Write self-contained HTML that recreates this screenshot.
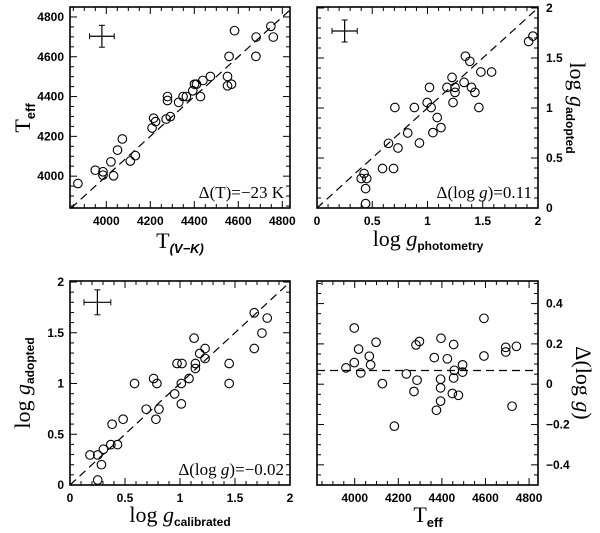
<!DOCTYPE html>
<html><head><meta charset="utf-8"><style>
html,body{margin:0;padding:0;background:#fff;}
svg{display:block;}
.tk{font-family:"Liberation Sans",sans-serif;font-size:12px;font-weight:bold;fill:#000;}
.lab{font-family:"Liberation Serif",serif;fill:#000;}
</style></head><body>
<svg id="fig" width="600" height="533" viewBox="0 0 600 533" xmlns="http://www.w3.org/2000/svg">
<g id="root"></g>
<text class="lab" transform="translate(30,118) rotate(-90)" text-anchor="middle" font-size="22">T<tspan font-size="13" font-weight="bold" font-family="Liberation Sans" dy="5">eff</tspan></text>
<text class="lab" x="180" y="248" text-anchor="middle" font-size="22">T<tspan font-size="13" font-weight="bold" font-style="italic" font-family="Liberation Sans" dy="5">(V−K)</tspan></text>
<text class="lab" x="428" y="246" text-anchor="middle" font-size="22">log <tspan font-style="italic">g</tspan><tspan font-size="12" font-weight="bold" font-family="Liberation Sans" dy="4">photometry</tspan></text>
<text class="lab" transform="translate(570,108) rotate(90)" text-anchor="middle" font-size="22">log <tspan font-style="italic">g</tspan><tspan font-size="12" font-weight="bold" font-family="Liberation Sans" dy="4">adopted</tspan></text>
<text class="lab" transform="translate(30,383) rotate(-90)" text-anchor="middle" font-size="22">log <tspan font-style="italic">g</tspan><tspan font-size="12" font-weight="bold" font-family="Liberation Sans" dy="4">adopted</tspan></text>
<text class="lab" x="180" y="522" text-anchor="middle" font-size="22">log <tspan font-style="italic">g</tspan><tspan font-size="12" font-weight="bold" font-family="Liberation Sans" dy="4">calibrated</tspan></text>
<text class="lab" x="428" y="522" text-anchor="middle" font-size="22">T<tspan font-size="13" font-weight="bold" font-family="Liberation Sans" dy="5">eff</tspan></text>
<text class="lab" transform="translate(576,383) rotate(90)" text-anchor="middle" font-size="22">Δ(log <tspan font-style="italic">g</tspan>)</text>
</svg>
<script>
const tlX=[3871,3950,3985,3985,4033,4021,4051,4073,4109,4132,4208,4215,4224,4272,4291,4278,4278,4329,4349,4364,4393,4401,4410,4428,4439,4473,4551,4551,4569,4558,4583,4680,4681,4748,4759];
const tlY=[3963,4030,4022,4005,4002,4072,4131,4187,4076,4103,4242,4291,4274,4287,4299,4400,4380,4371,4400,4400,4429,4462,4462,4400,4481,4501,4501,4454,4462,4602,4731,4602,4699,4753,4699];
const trX=[0.426,0.40,0.45,0.44,0.44,0.593,0.693,0.647,0.733,0.705,0.881,0.821,0.927,0.997,1.018,1.033,1.049,1.088,1.122,1.176,1.222,1.231,1.249,1.249,1.331,1.343,1.383,1.398,1.429,1.465,1.483,1.58,1.915,1.954];
const trY=[0.345,0.295,0.295,0.194,0.044,0.395,0.395,0.647,0.60,1.005,1.005,0.75,0.65,1.055,1.206,1.005,0.754,0.905,0.804,1.206,1.306,1.055,1.206,1.156,1.256,1.518,1.467,1.206,1.156,1.005,1.36,1.36,1.665,1.719];
const blX=[0.182,0.252,0.252,0.286,0.304,0.383,0.371,0.432,0.483,0.587,0.693,0.76,0.79,0.781,0.809,0.951,0.973,1.018,1.012,1.012,1.082,1.128,1.14,1.14,1.179,1.228,1.228,1.447,1.447,1.675,1.675,1.745,1.793];
const blY=[0.296,0.296,0.049,0.20,0.352,0.599,0.398,0.398,0.648,1.0,0.747,1.049,1.0,0.648,0.747,0.898,1.197,1.197,1.0,0.799,1.049,1.447,1.197,1.148,1.296,1.345,1.247,1.197,1.0,1.697,1.345,1.497,1.645];
const brX=[3960,3998,3998,4018,4028,4067,4073,4098,4127,4182,4237,4272,4281,4286,4297,4365,4375,4394,4394,4394,4396,4425,4454,4448,4457,4454,4476,4495,4495,4593,4593,4693,4693,4742,4722];
const brY=[0.081,0.279,0.107,0.174,0.056,0.139,0.096,0.208,0.003,-0.208,0.051,-0.036,0.195,0.02,0.212,0.132,-0.129,0.025,-0.018,-0.084,0.228,0.126,0.197,-0.046,0.069,0.031,-0.055,0.096,0.06,0.327,0.14,0.183,0.16,0.188,-0.109];
const tlTicks=[4000,4200,4400,4600,4800];
const logTicks=[0,0.5,1,1.5,2];
const logLabels=["0","0.5","1","1.5","2"];
const dTicks=[-0.4,-0.2,0,0.2,0.4];
const dLabels=["−0.4","−0.2","0","0.2","0.4"];
const brOffset=[0.068];
const NS="http://www.w3.org/2000/svg";
const root=document.getElementById('root');
function mk(tag,attrs,parent){const e=document.createElementNS(NS,tag);for(const k in attrs)e.setAttribute(k,attrs[k]);(parent||root).appendChild(e);return e;}
function panel(o){
  const g=mk('g',{});
  
  
  const sx=v=>o.x0+(v-o.xr[0])/(o.xr[1]-o.xr[0])*(o.x1-o.x0);
  const sy=v=>o.y1-(v-o.yr[0])/(o.yr[1]-o.yr[0])*(o.y1-o.y0);
  const fr=mk('rect',{x:o.x0,y:o.y0,width:o.x1-o.x0,height:o.y1-o.y0,fill:'none',stroke:'#000','stroke-width':1.6},g);
  
  
  // minor/major ticks
  for(let v=Math.ceil(o.xr[0]/o.xmin)*o.xmin;v<=o.xr[1]+1e-9;v+=o.xmin){
    const isM=Math.abs(v/o.xmaj-Math.round(v/o.xmaj))<1e-6; const L=isM?7:4; const X=sx(v);
    mk('line',{x1:X,x2:X,y1:o.y1,y2:o.y1-L,stroke:'#000','stroke-width':1},g);
    mk('line',{x1:X,x2:X,y1:o.y0,y2:o.y0+L,stroke:'#000','stroke-width':1},g);
  }
  for(let v=Math.ceil(o.yr[0]/o.ymin-1e-9)*o.ymin;v<=o.yr[1]+1e-9;v+=o.ymin){
    const isM=Math.abs(v/o.ymaj-Math.round(v/o.ymaj))<1e-6; const L=isM?7:4; const Y=sy(v);
    mk('line',{x1:o.x0,x2:o.x0+L,y1:Y,y2:Y,stroke:'#000','stroke-width':1},g);
    mk('line',{x1:o.x1,x2:o.x1-L,y1:Y,y2:Y,stroke:'#000','stroke-width':1},g);
  }
  o.xt.forEach((v,i)=>{const t=mk('text',{x:sx(v),y:o.y1+17,'text-anchor':'middle',class:'tk'},g);t.textContent=o.xl[i];
    
    });
  o.yt.forEach((v,i)=>{const right=o.yside==='r';const t=mk('text',{x:right?o.x1+8:o.x0-6,y:sy(v)+4,'text-anchor':right?'start':'end',class:'tk'},g);t.textContent=o.yl[i];
    
    });
  // reference line
  let ln;
  if(o.hline!==undefined){ln=mk('line',{x1:o.x0,x2:o.x1,y1:sy(o.hline),y2:sy(o.hline),stroke:'#000','stroke-width':1.2,'stroke-dasharray':'8,5'},g);}
  else{const a=Math.max(o.xr[0],o.yr[0]),b=Math.min(o.xr[1],o.yr[1]);ln=mk('line',{x1:sx(a),y1:sy(a),x2:sx(b),y2:sy(b),stroke:'#000','stroke-width':1.2,'stroke-dasharray':'8,5'},g);}
  
  
  o.px.forEach((v,i)=>{const c=mk('circle',{cx:sx(v),cy:sy(o.py[i]),r:4.3,fill:'none',stroke:'#000','stroke-width':1.1},g);
    
    });
  if(o.err){const e=o.err;const cx=sx(e[0]),cy=sy(e[1]);
    const eg=mk('g',{},g);
    
    
    const x1=sx(e[0]-e[2]),x2=sx(e[0]+e[2]),y1=sy(e[1]+e[3]),y2=sy(e[1]-e[3]);
    mk('line',{x1:x1,x2:x2,y1:cy,y2:cy,stroke:'#000','stroke-width':1.2},eg);
    mk('line',{x1:cx,x2:cx,y1:y1,y2:y2,stroke:'#000','stroke-width':1.2},eg);
    mk('line',{x1:x1,x2:x1,y1:cy-3,y2:cy+3,stroke:'#000','stroke-width':1},eg);
    mk('line',{x1:x2,x2:x2,y1:cy-3,y2:cy+3,stroke:'#000','stroke-width':1},eg);
    mk('line',{x1:cx-3,x2:cx+3,y1:y1,y2:y1,stroke:'#000','stroke-width':1},eg);
    mk('line',{x1:cx-3,x2:cx+3,y1:y2,y2:y2,stroke:'#000','stroke-width':1},eg);}
  if(o.note){const t=mk('text',{x:o.x1-6,y:o.y1-10,'text-anchor':'end',class:'lab','font-size':'17'},g);t.innerHTML=o.note;
    
    }
}
panel({name:'panel-teff-vs-tvk',x0:70,x1:290,y0:7,y1:208,xr:[3835,4835],yr:[3840,4850],xmaj:200,xmin:50,ymaj:200,ymin:50,
  xt:tlTicks,xl:tlTicks.map(String),yt:tlTicks,yl:tlTicks.map(String),yside:'l',px:tlX,py:tlY,err:[3980,4703,56,55],note:'Δ(T)=−23  K'});
panel({name:'panel-logg-vs-photometry',x0:317,x1:538,y0:7,y1:208,xr:[0,2],yr:[0,2.01],xmaj:0.5,xmin:0.1,ymaj:0.5,ymin:0.1,
  xt:logTicks,xl:logLabels,yt:logTicks,yl:logLabels,yside:'r',px:trX,py:trY,err:[0.25,1.77,0.114,0.11],note:'Δ(log <tspan font-style="italic">g</tspan>)=0.11'});
panel({name:'panel-logg-vs-calibrated',x0:70,x1:290,y0:281,y1:485,xr:[0,2],yr:[0,2.01],xmaj:0.5,xmin:0.1,ymaj:0.5,ymin:0.1,
  xt:logTicks,xl:logLabels,yt:logTicks,yl:logLabels,yside:'l',px:blX,py:blY,err:[0.249,1.80,0.122,0.123],note:'Δ(log <tspan font-style="italic">g</tspan>)=−0.02'});
panel({name:'panel-dlogg-vs-teff',x0:317,x1:538,y0:281,y1:485,xr:[3827,4841],yr:[-0.5,0.512],xmaj:200,xmin:50,ymaj:0.2,ymin:0.05,
  xt:tlTicks,xl:tlTicks.map(String),yt:dTicks,yl:dLabels,yside:'r',px:brX,py:brY,hline:brOffset[0]});
</script>
</body></html>
